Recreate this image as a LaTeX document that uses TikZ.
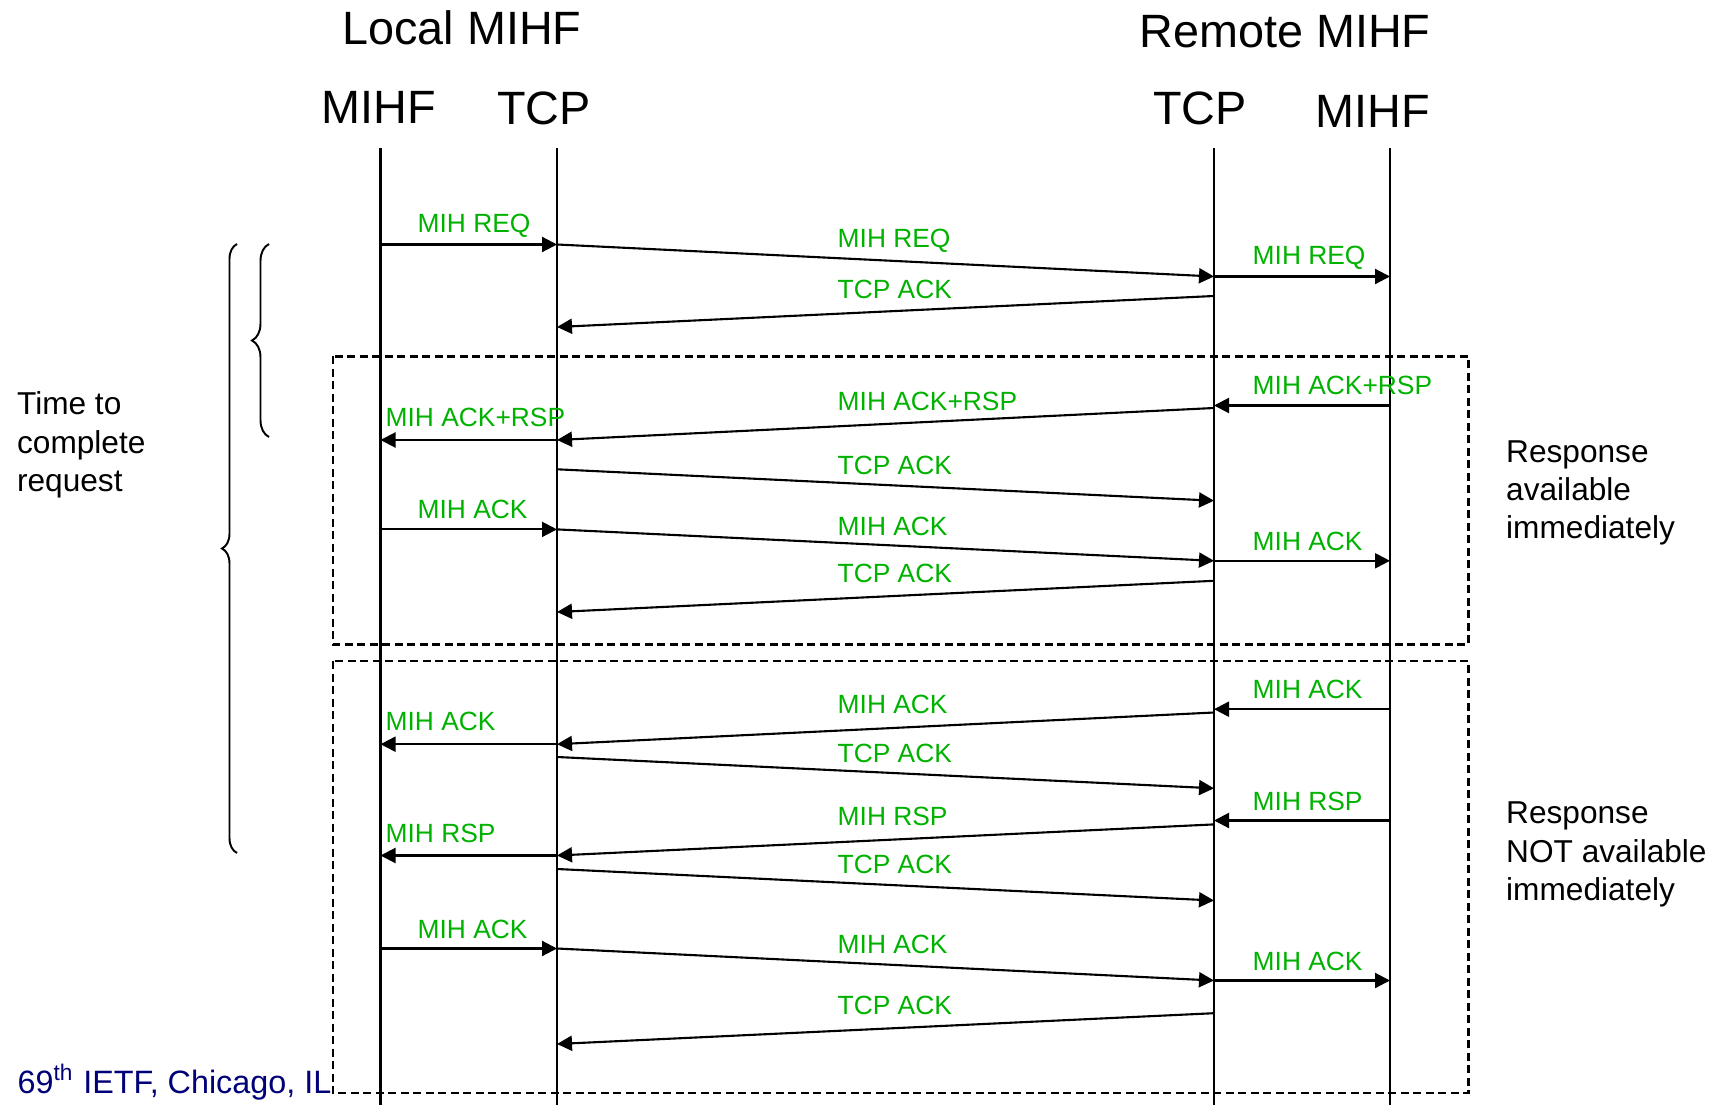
\documentclass[tikz,border=0pt]{standalone}
\usepackage{fontspec}
\setmainfont{Liberation Sans}
\usetikzlibrary{arrows.meta,decorations.pathreplacing}
\definecolor{msggreen}{RGB}{0,178,0}
\definecolor{ietfblue}{RGB}{0,0,120}
\tikzset{
  lifeline/.style={line width=0.65pt},
  msg/.style={line width=0.6pt,-{Triangle[length=1.5mm,width=1.5mm]}},
  msglabel/.style={text=msggreen,font=\fontsize{7.5}{9}\selectfont,inner sep=0pt,anchor=west,yshift=-0.2mm},
  head/.style={font=\fontsize{13.3}{16}\selectfont,inner sep=0pt,anchor=base},
  note/.style={font=\fontsize{9}{10.9}\selectfont,align=left,inner sep=0pt,anchor=west},
  casebox/.style={line width=0.6pt,dash pattern=on 0.8mm off 0.45mm},
  timebrace/.style={line width=0.55pt,decorate,decoration={brace,amplitude=#1,aspect=0.5}}
}

\begin{document}
\begin{tikzpicture}[x=0.1mm,y=-0.1mm]
	\useasboundingbox (0,0) rectangle (1719,1105);

	\node[head] (local) at (462,45) {Local MIHF};
	\node[head] (remote) at (1285,47.7) {Remote MIHF};
	\node[head] (hMihfL) at (378.5,124) {MIHF};
	\node[head] (hTcpL) at (544,125) {TCP};
	\node[head] (hTcpR) at (1200,125) {TCP};
	\node[head] (hMihfR) at (1373,128) {MIHF};

	\coordinate (mihfL) at (380.5,148);
	\coordinate (tcpL) at (557,148);
	\coordinate (tcpR) at (1214,148);
	\coordinate (mihfR) at (1390,148);
	\foreach \c in {mihfL,tcpL,tcpR,mihfR}
		\draw[lifeline] (\c) -- (\c |- 0,1105);

	\draw[casebox] (333,356.5) rectangle (1468.5,644.5);
	\draw[casebox] (333,661) rectangle (1468.5,1093);

	\draw[timebrace=1.5mm] (237,853) -- (237,244);
	\draw[timebrace=1.7mm] (269,437) -- (269,244);

	\foreach \a/\ya/\b/\yb/\lx/\ly/\txt [count=\i] in {
		mihfL/244.5/tcpL/244.5/417/223.6/MIH REQ,
		tcpL/244.5/tcpR/276.5/837/239/MIH REQ,
		tcpR/276.5/mihfR/276.5/1252/255.4/MIH REQ,
		tcpR/296/tcpL/327/837/287/TCP ACK,
		mihfR/405.5/tcpR/405.5/1252/383.5/MIH ACK+RSP,
		tcpR/408/tcpL/440/837/399/MIH ACK+RSP,
		tcpL/440/mihfL/440/385/415.6/MIH ACK+RSP,
		tcpL/469.3/tcpR/500.7/837/463.7/TCP ACK,
		mihfL/529.4/tcpL/529.4/417/507.6/MIH ACK,
		tcpL/529.4/tcpR/560.8/837/524/MIH ACK,
		tcpR/560.8/mihfR/560.8/1252/539.4/MIH ACK,
		tcpR/580.8/tcpL/612/837/571/TCP ACK,
		mihfR/709.2/tcpR/709.2/1252/687.4/MIH ACK,
		tcpR/712.5/tcpL/744.2/837/702.7/MIH ACK,
		tcpL/744.2/mihfL/744.2/385/719.5/MIH ACK,
		tcpL/757/tcpR/788.3/837/751/TCP ACK,
		mihfR/820.5/tcpR/820.5/1252/799.2/MIH RSP,
		tcpR/824.4/tcpL/855.5/837/814.6/MIH RSP,
		tcpL/855.5/mihfL/855.5/385/831.4/MIH RSP,
		tcpL/869/tcpR/900.5/837/862.8/TCP ACK,
		mihfL/948.5/tcpL/948.5/417/927.6/MIH ACK,
		tcpL/948.5/tcpR/980.5/837/942.8/MIH ACK,
		tcpR/980.5/mihfR/980.5/1252/959.3/MIH ACK,
		tcpR/1013.2/tcpL/1044/837/1003/TCP ACK}{
		\draw[msg] (\a |- 0,\ya) -- (\b |- 0,\yb);
		\node[msglabel] (m\i) at (\lx,\ly) {\txt};
	}

	\node[note] (timeNote) at (16.4,445) {Time to\\complete\\request};
	\node[note] (caseNow) at (1505.5,493) {Response\\available\\immediately};
	\node[note] (caseLater) at (1505.5,854.5) {Response\\NOT available\\immediately};
	\node[note,text=ietfblue,font=\fontsize{9.2}{11}\selectfont] (venue) at (17,1082) {69\textsuperscript{th} IETF, Chicago, IL};
\end{tikzpicture}
\end{document}
